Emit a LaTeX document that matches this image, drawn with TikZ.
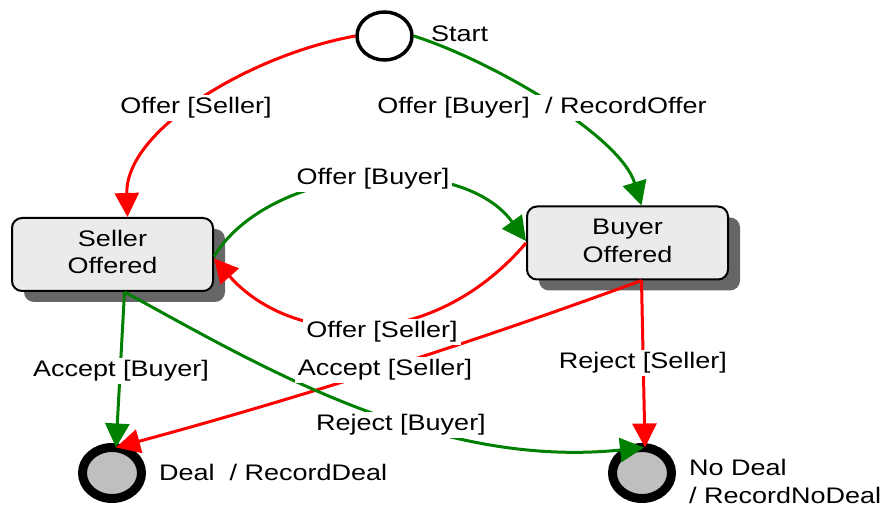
\documentclass[tikz,border=0pt]{standalone}
\usepackage{fontspec}
\setmainfont{Liberation Sans}
\usepackage{graphicx}
\usetikzlibrary{shapes.geometric,arrows.meta,shadows,calc}
\definecolor{dgreen}{RGB}{0,128,0}
\newcommand{\sx}[1]{\scalebox{1.2}[1]{#1}}
\begin{document}
\begin{tikzpicture}[x=1pt,y=-1pt,
  every node/.style={font=\fontsize{22.5}{26.5}\selectfont},
  state/.style={draw, line width=2pt, fill=black!8, rounded corners=10pt, minimum width=201pt, minimum height=73pt, inner sep=0pt,
    drop shadow={shadow xshift=12pt,shadow yshift=-11pt,fill=black!60,opacity=1}},
  initst/.style={draw, ellipse, line width=3.5pt, minimum width=55pt, minimum height=48pt, inner sep=0pt, fill=white},
  finalst/.style={draw, ellipse, line width=9pt, fill=black!25, minimum width=59pt, minimum height=51pt, inner sep=0pt, outer sep=0pt},
  lab/.style={fill=white, inner sep=3pt},
  txt/.style={inner sep=0pt},
  redge/.style={draw=red, line width=3pt, -{Triangle[length=24pt,width=24pt]}},
  gedge/.style={draw=dgreen, line width=3pt, -{Triangle[length=24pt,width=24pt]}}]
\useasboundingbox (0,0) rectangle (883,510);

% states
\node[initst] (start) at (384.5,36) {};
\node[txt, anchor=west] (starttxt) at (431,34) {\sx{Start}};
\node[state] (seller) at (112.5,254.5) {\raisebox{-2pt}{\sx{\begin{tabular}{@{}c@{}}Seller\\[1pt]Offered\end{tabular}}}};
\node[state] (buyer) at (627.5,243) {\raisebox{-1pt}{\sx{\begin{tabular}{@{}c@{}}Buyer\\[1pt]Offered\end{tabular}}}};
\node[finalst] (deal) at (112,473) {};
\node[finalst] (nodeal) at (642,473) {};
\node[txt, anchor=west] (dealtxt) at (159,472) {\sx{Deal~ / RecordDeal}};
\node[txt, anchor=west] (nodealtxt) at (689,484) {\sx{\begin{tabular}{@{}l@{}}No Deal\\[1pt]/ RecordNoDeal\end{tabular}}};

% transitions
\draw[redge] (start.west) .. controls (250,55) and (125,130) .. ($(seller.north)+(15,0)$);
\draw[gedge] (start.east) .. controls (490,60) and (620,135) .. ($(buyer.north)+(14,0)$);
\draw[gedge] ($(seller.east)+(0,2)$) .. controls (270,165) and (460,150) .. ($(buyer.west)+(0,-2)$);
\draw[redge] ($(buyer.west)+(0,0)$) .. controls (430,355) and (290,345) .. ($(seller.east)+(0,4)$);
\draw[gedge] ($(seller.south)+(12,0)$) -- ($(deal.north)+(4,0)$);
\draw[redge] ($(buyer.south)+(14,0)$) .. controls (466,345) and (292,400) .. ($(deal.north)+(4,0)$);
\draw[gedge] ($(seller.south)+(12,0)$) .. controls (250,360) and (430,470) .. ($(nodeal.north)+(2,0)$);
\draw[redge] ($(buyer.south)+(14,0)$) -- ($(nodeal.north)+(3,0)$);

% labels
\node[lab] (l1) at (196,108) {\sx{Offer [Seller]}};
\node[lab] (l2) at (542,108) {\sx{Offer [Buyer]~ / RecordOffer}};
\node[lab] (l3) at (373,179) {\sx{Offer [Buyer]}};
\node[lab] (l4) at (382,332) {\sx{Offer [Seller]}};
\node[lab] (l5) at (121,371) {\sx{Accept [Buyer]}};
\node[lab] (l6) at (385,370) {\sx{Accept [Seller]}};
\node[lab] (l7) at (401,425) {\sx{Reject [Buyer]}};
\node[lab] (l8) at (643,363) {\sx{Reject [Seller]}};
\end{tikzpicture}
\end{document}
